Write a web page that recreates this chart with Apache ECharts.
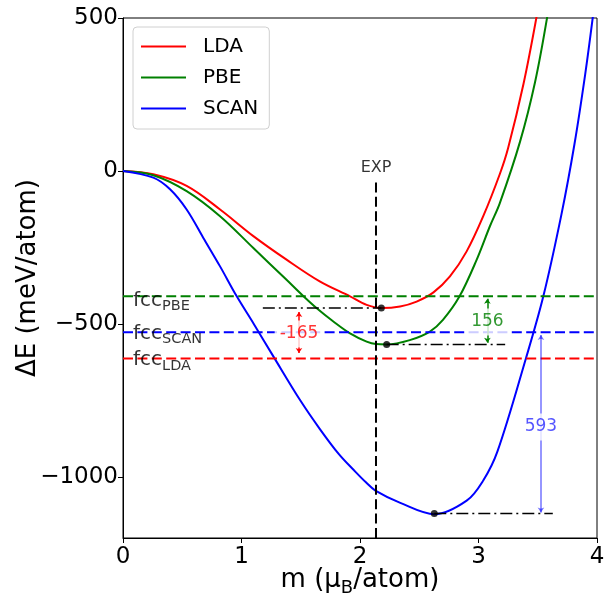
<!DOCTYPE html>
<html>
<head>
<meta charset="utf-8">
<script src="https://cdn.jsdelivr.net/npm/echarts@6/dist/echarts.min.js"></script>
<style>
    html, body { margin: 0; padding: 0; background: #fff; }
    #chart { width: 608px; height: 595px; }
</style>
</head>
<body>
<div id="chart"></div>
<script>
// magnetic moment (muB/atom) vs energy (meV/atom)
var ldaM = [0, 0.256, 0.537, 0.819, 1.1, 1.38, 1.66, 1.916, 2.056, 2.18, 2.338, 2.478, 2.62, 2.759, 2.9, 3.04, 3.18, 3.25, 3.38, 3.49];
var ldaE = [0, -11, -49, -126, -213, -290, -361, -410, -438, -448, -443, -427, -397, -345, -263, -148, -10, 75, 285, 504];

var pbeM = [0, 0.256, 0.537, 0.819, 1.1, 1.38, 1.51, 1.635, 1.775, 1.916, 2.056, 2.135, 2.225, 2.42, 2.59, 2.7, 2.84, 2.985, 3.097, 3.18, 3.35, 3.477, 3.58];
var pbeE = [0, -14, -66, -148, -252, -356, -405, -449, -492, -531, -558, -566, -567, -553, -525, -487, -410, -290, -180, -105, 95, 290, 504];

var scanM = [0, 0.256, 0.397, 0.537, 0.678, 0.819, 0.96, 1.1, 1.27, 1.494, 1.66, 1.82, 1.96, 2.05, 2.13, 2.34, 2.63, 2.9, 3.04, 3.16, 3.4, 3.547, 3.7, 3.81, 3.9, 3.965];
var scanE = [0, -22, -60, -126, -219, -312, -410, -498, -607, -749, -843, -925, -983, -1018, -1045, -1085, -1122, -1078, -1012, -917, -613, -410, -142, 88, 315, 504];

// fcc reference energies
var fccNames = ['PBE', 'SCAN', 'LDA'];
var fccE = [-410, -527, -613];
var fccLabelE = [-423, -531, -617.5];

// minima and the dash-dot guides
var minM = [2.18, 2.225, 2.627];
var minE = [-448, -567, -1120];
var guideStartM = [1.18, 2.225, 2.627];
var guideEndM = [2.18, 3.225, 3.627];

// experimental moment
var expM = 2.135;
var expTopE = -30;

// energy differences
var diffText = ['-165', '156', '593'];
var diffM = [1.485, 3.075, 3.527];
var diffTextE = [-533, -494, -837];
var arrowFromE = [-461, -418, -536];
var arrowToE = [-595, -562, -1117];

var yTicks = [-1000, -500, 0, 500];

function pairs(xs, ys) {
    return xs.map(function (x, i) { return [x, ys[i]]; });
}

var FONT = 'DejaVu Sans';
var dashed = [10, 4.4];
var dashDot = [12, 4, 2, 4];
var fccColors = ['#008000', '#0000ff', '#ff0000'];
var diffColors = ['#ff0000', '#008000', '#2b2bff'];
var arrowColors = ['#ff0000', '#008000', 'rgba(0,0,255,0.55)'];

var chart = echarts.init(document.getElementById('chart'));

var series = [];

// main curves
[['LDA', ldaM, ldaE, '#ff0000'], ['PBE', pbeM, pbeE, '#008000'], ['SCAN', scanM, scanE, '#0000ff']].forEach(function (c) {
    series.push({
        name: c[0],
        type: 'line',
        data: pairs(c[1], c[2]),
        smooth: 0.35,
        showSymbol: false,
        symbol: 'none',
        color: c[3],
        lineStyle: { color: c[3], width: 2 },
        z: 2
    });
});

// fcc horizontal dashed lines
fccE.forEach(function (e, i) {
    series.push({
        type: 'line',
        silent: true,
        data: [[0, e], [4, e]],
        symbol: 'none',
        lineStyle: { color: fccColors[i], width: 2, type: dashed },
        z: 3
    });
});

// EXP vertical
series.push({
    type: 'line',
    silent: true,
    data: [[expM, -1200], [expM, expTopE]],
    symbol: 'none',
    lineStyle: { color: '#000', width: 2, type: dashed },
    z: 3
});

// dash-dot guides
minE.forEach(function (e, i) {
    series.push({
        type: 'line',
        silent: true,
        data: [[guideStartM[i], e], [guideEndM[i], e]],
        symbol: 'none',
        lineStyle: { color: '#000', width: 1.5, type: dashDot },
        z: 3
    });
});

// minima dots
series.push({
    type: 'scatter',
    silent: true,
    data: pairs(minM, minE),
    symbolSize: 7,
    itemStyle: { color: '#000' },
    z: 4
});

// arrows
series.push({
    type: 'line',
    silent: true,
    data: [],
    markLine: {
        silent: true,
        symbol: ['arrow', 'arrow'],
        symbolSize: 5,
        label: { show: false },
        emphasis: { disabled: true },
        animation: false,
        data: diffM.map(function (m, i) {
            return [
                { coord: [m, arrowFromE[i]], lineStyle: { color: arrowColors[i], width: 1.5, type: 'solid' } },
                { coord: [m, arrowToE[i]] }
            ];
        })
    },
    z: 5
});

// difference labels (white box)
series.push({
    type: 'scatter',
    silent: true,
    symbolSize: 0,
    data: diffM.map(function (m, i) {
        return {
            value: [m, diffTextE[i]],
            label: {
                show: true,
                position: 'inside',
                formatter: diffText[i],
                color: diffColors[i],
                fontFamily: FONT,
                fontSize: 17,
                backgroundColor: '#fff',
                padding: [5, 5, 5, 5]
            }
        };
    }),
    z: 10
});

// fcc labels
series.push({
    type: 'scatter',
    silent: true,
    symbolSize: 0,
    data: fccNames.map(function (n, i) {
        return {
            value: [0.085, fccLabelE[i]],
            label: {
                show: true,
                position: 'right',
                distance: 0,
                formatter: '{a|fcc}{b|' + n + '}',
                rich: {
                    a: { fontFamily: FONT, fontSize: 20, lineHeight: 20, color: '#000', verticalAlign: 'top', padding: [0, 0, 3.25, 0] },
                    b: { fontFamily: FONT, fontSize: 14.5, lineHeight: 14.5, color: '#000', verticalAlign: 'top', padding: [8.75, 0, 0, 0] }
                }
            }
        };
    }),
    z: 10
});

// EXP label
series.push({
    type: 'scatter',
    silent: true,
    symbolSize: 0,
    data: [{
        value: [expM, 10],
        label: { show: true, position: 'inside', formatter: 'EXP', color: '#000', fontFamily: FONT, fontSize: 16 }
    }],
    z: 10
});

var option = {
    backgroundColor: '#fff',
    animation: false,
    grid: {
        left: 123, right: 11, top: 18, bottom: 57,
        outerBoundsMode: 'none',
        show: true, borderColor: '#000', borderWidth: 1, backgroundColor: 'transparent'
    },
    legend: {
        data: ['LDA', 'PBE', 'SCAN'],
        orient: 'vertical',
        left: 133,
        top: 27,
        icon: 'rect',
        itemWidth: 45,
        itemHeight: 2,
        itemGap: 10,
        padding: [9, 11, 10, 8],
        borderColor: '#d0d0d0',
        borderWidth: 1,
        borderRadius: 4,
        backgroundColor: 'rgba(255,255,255,0.8)',
        textStyle: { fontFamily: FONT, fontSize: 20, lineHeight: 21, color: '#000', padding: [0, 0, 0, 12] }
    },
    xAxis: {
        type: 'value',
        min: 0,
        max: 4,
        interval: 1,
        name: '{a|m (μ}{b|B}{a|/atom)}',
        nameLocation: 'middle',
        nameGap: 29,
        nameMoveOverlap: false,
        nameTextStyle: {
            rich: {
                a: { fontFamily: FONT, fontSize: 26, lineHeight: 26, color: '#000', verticalAlign: 'top', padding: [0, 0, 4, 0] },
                b: { fontFamily: FONT, fontSize: 18, lineHeight: 18, color: '#000', verticalAlign: 'top', padding: [12, 0, 0, 0] }
            }
        },
        axisLine: { onZero: false, lineStyle: { color: '#000', width: 1 } },
        axisTick: { inside: false, length: 5, lineStyle: { color: '#000' } },
        axisLabel: { margin: 8, fontFamily: FONT, fontSize: 23, color: '#000' },
        splitLine: { show: false }
    },
    yAxis: {
        type: 'value',
        min: -1200,
        max: 500,
        name: 'ΔE (meV/atom)',
        nameLocation: 'middle',
        nameGap: 82,
        nameMoveOverlap: false,
        nameTextStyle: { fontFamily: FONT, fontSize: 26, color: '#000' },
        axisLine: { onZero: false, lineStyle: { color: '#000', width: 1 } },
        axisTick: { inside: false, length: 5, customValues: yTicks, lineStyle: { color: '#000' } },
        axisLabel: {
            margin: 5,
            fontFamily: FONT,
            fontSize: 23,
            color: '#000',
            customValues: yTicks,
            formatter: function (v) { return String(v).replace('-', '\u2212'); }
        },
        splitLine: { show: false }
    },
    series: series
};

chart.setOption(option);
</script>
</body>
</html>
